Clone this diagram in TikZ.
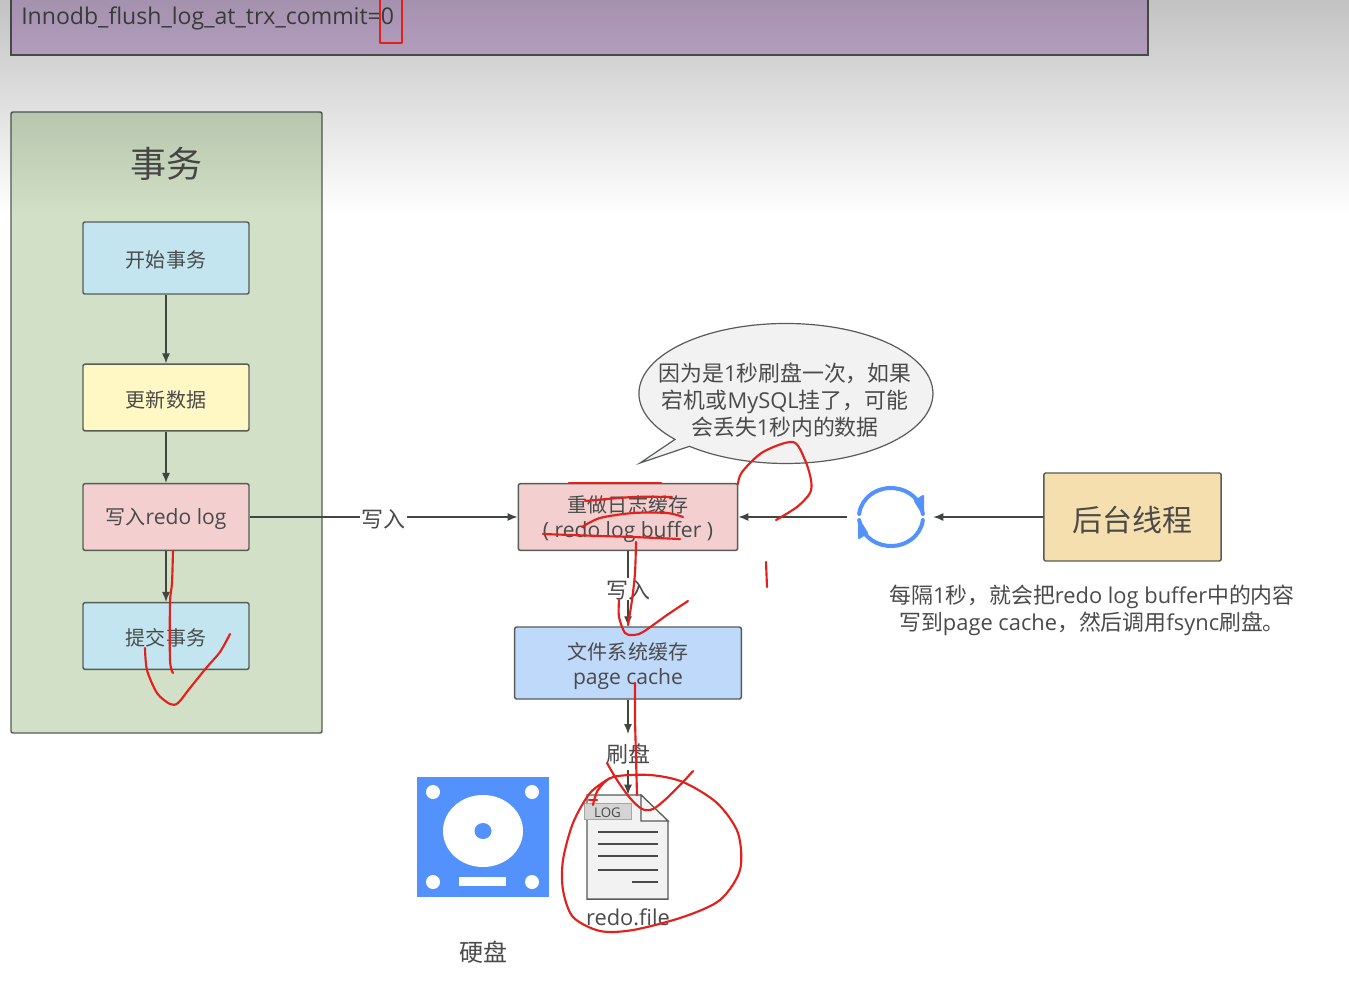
\documentclass[tikz,border=0pt]{standalone}
\usepackage{fontspec}
\setmainfont{Open Sans}
\newfontfamily\cjk{Noto Sans CJK SC}
\newfontfamily\cjksmall[Scale=0.95]{Noto Sans CJK SC}
\usepackage{xcolor}
\usetikzlibrary{arrows.meta,fadings}

\newcommand{\lowtext}[2][1.5pt]{\raisebox{-#1}[\height][\depth]{#2}}
\definecolor{inkgray}{HTML}{4A4A4A}
\definecolor{edgegray}{HTML}{565C56}
\definecolor{arrowgray}{HTML}{404640}
\definecolor{redink}{HTML}{E3201B}
\definecolor{iconblue}{HTML}{5391FD}
\tikzset{
  txbox/.style={draw=edgegray,line width=1.1pt,rounded corners=1.5pt,inner sep=0pt,text=inkgray,align=center,font=\fontsize{15.8}{18.7}\selectfont},
  flowarrow/.style={draw=arrowgray,line width=1pt,-{Latex[length=7.5pt,width=6pt]}},
  edgelabel/.style={fill=white,inner sep=1pt,text=inkgray,font=\cjk\fontsize{16.5}{18}\selectfont},
  plaintext/.style={inner sep=0pt,text=inkgray,align=center},
  redstroke/.style={draw=redink,line width=1.6pt,line cap=round,line join=round},
  syncarc/.style={draw=iconblue,line width=3pt,line cap=round},
  synchead/.style={draw=iconblue,fill=iconblue,line width=1.5pt,line join=round},
}

\begin{document}
\begin{tikzpicture}[x=0.75pt,y=0.75pt,yscale=-1]
\useasboundingbox (0,0) rectangle (1349,983);
\fill[white] (0,0) rectangle (1349,983);

%Shape: Rectangle top bar
\draw[edgegray,line width=1.1pt,fill={rgb,255:red,217;green,192;blue,230}] (11,-8) rectangle (1148,55);
% Text Node
\node[plaintext,anchor=west,font=\fontsize{17.3}{20}\selectfont] (settingtext) at (21,18) {Innodb\_flush\_log\_at\_trx\_commit=0};

%Shape: Rectangle transaction panel
\draw[edgegray,line width=1.1pt,rounded corners=1.5pt,fill={rgb,255:red,209;green,224;blue,198}] (11,112) rectangle (322,733);
% Text Node
\node[plaintext,font=\cjk\fontsize{27}{30}\selectfont] (paneltitle) at (166,164) {事务};

%Shapes: boxes of the panel
\node[txbox,fill={rgb,255:red,195;green,229;blue,240},minimum width=124.5pt,minimum height=54pt] (starttx) at (166,258) {\lowtext{\cjksmall 开始事务}};
\node[txbox,fill={rgb,255:red,255;green,248;blue,197},minimum width=124.5pt,minimum height=50pt] (updatedata) at (166,397.5) {\lowtext{\cjksmall 更新数据}};
\node[txbox,fill={rgb,255:red,243;green,207;blue,207},minimum width=124.5pt,minimum height=50pt] (writelog) at (166,517) {\lowtext{{\cjksmall 写入}redo log}};
\node[txbox,fill={rgb,255:red,195;green,229;blue,240},minimum width=124.5pt,minimum height=50pt] (committx) at (166,636) {\lowtext{\cjksmall 提交事务}};

%Shapes: boxes of the middle column
\node[txbox,fill={rgb,255:red,243;green,207;blue,207},minimum width=164.5pt,minimum height=50pt] (logbuffer) at (628,517) {\lowtext{\cjksmall 重做日志缓存}\\\lowtext{( redo log buffer )}};
\node[txbox,fill={rgb,255:red,191;green,217;blue,250},minimum width=170pt,minimum height=54pt] (pagecache) at (628,663) {\lowtext[2pt]{\cjksmall 文件系统缓存}\\\lowtext[2pt]{page cache}};
\node[txbox,fill={rgb,255:red,246;green,223;blue,174},minimum width=133pt,minimum height=66pt,font=\cjk\fontsize{22.5}{26}\selectfont] (bgthread) at (1132.5,517) {\lowtext[2.2pt]{后台线程}};

%Shape: speech bubble
\draw[edgegray,line width=0.9pt,fill=black!5] (675,439.4) arc[start angle=139,end angle=491,x radius=147,y radius=70] -- (640,463) -- cycle;
% Text Node
\node[plaintext,font=\fontsize{16.4}{20.2}\selectfont] (bubbletext) at (785,400) {{\cjk 因为是}1{\cjk 秒刷盘一次，如果}\\{\cjk 宕机或}MySQL{\cjk 挂了，可能}\\{\cjk 会丢失}1{\cjk 秒内的数据}};

%Shape: sync icon
\node[minimum size=64.5pt,inner sep=0pt,circle] (syncicon) at (890,517) {};
\draw[syncarc] ([shift={(186:32 and 29)}]891,517) arc[start angle=186,end angle=354,x radius=32,y radius=29];
\draw[syncarc] ([shift={(6:32 and 29)}]891,517) arc[start angle=6,end angle=174,x radius=32,y radius=29];
\draw[synchead] (923,496) -- (923,514) -- (915,501) -- cycle;
\draw[synchead] (859,538) -- (859,520) -- (867,533) -- cycle;

% Text Node
\node[plaintext,font=\fontsize{16.4}{20.2}\selectfont] (notetext) at (1092,610) {{\cjk 每隔}1{\cjk 秒，就会把}redo log buffer{\cjk 中的内容}\\{\cjk 写到}page cache{\cjk ，然后调用}fsync{\cjk 刷盘。}};

%Shape: disk icon
\fill[iconblue] (417,777) rectangle (549,897);
\foreach \hx/\hy in {433/792,532/792,433/882,532/882}
  \fill[white] (\hx,\hy) circle [radius=7];
\fill[white] (483,831) ellipse [x radius=40,y radius=36];
\fill[iconblue] (483,831) ellipse [x radius=8.5,y radius=8];
\fill[white] (459,877) rectangle (506,886);
% Text Node
\node[plaintext,font=\cjk\fontsize{18}{20}\selectfont] (disklabel) at (483,952) {硬盘};

%Shape: log file icon
\node[inner sep=0pt,minimum width=60.75pt,minimum height=78pt] (logfile) at (628,847) {};
\draw[edgegray,line width=1.1pt,fill=black!5] (587,795) -- (641,795) -- (668,821) -- (668,899) -- (587,899) -- cycle;
\draw[edgegray,line width=0.8pt,fill=black!3] (641,795) -- (641,821) -- (668,821) -- cycle;
\draw[draw=black!35,fill=black!17] (584,803) rectangle (631,819);
\node[plaintext,font=\fontsize{10}{12}\selectfont] (logtag) at (607.5,813) {LOG};
\foreach \ly/\lx in {832/598,844/598,856/598,870/598,882/632}
  \draw[inkgray,line width=0.8pt] (\lx,\ly) -- (658,\ly);
% Text Node
\node[plaintext,font=\fontsize{16.4}{20}\selectfont] (filelabel) at (628,917) {redo.file};

%Straight Lines
\draw[flowarrow] (starttx) -- (updatedata);
\draw[flowarrow] (updatedata) -- (writelog);
\draw[flowarrow] (writelog) -- (committx);
\draw[flowarrow] (writelog) -- node[edgelabel] (writelabel) {\lowtext{写入}} (logbuffer);
\draw[flowarrow] (logbuffer) -- node[edgelabel] (bufferlabel) {\lowtext{写入}} (pagecache);
\node[edgelabel] (flushlabel) at (628,754) {刷盘};
\coordinate (flushtop) at (628,734);
\coordinate (flushbottom) at (628,770);
\draw[flowarrow] (pagecache) -- (flushtop);
\draw[flowarrow] (flushbottom) -- (logfile);
\draw[flowarrow] (syncicon) -- (logbuffer);
\draw[flowarrow] (bgthread) -- (syncicon);

%Shape: gray shade over the top
\fill[black,opacity=.24,path fading=south] (0,0) rectangle (1349,215);

%Red pen strokes
\draw[redstroke] (380,-4) -- (380,43) -- (402,43) -- (402,-4);
\draw[redstroke] plot[smooth] coordinates {(173,551) (172,583) (170,603) (170,660) (173,673)};
\draw[redstroke] plot[smooth] coordinates {(145,648) (147,670) (157,693) (170,704) (178,703) (190,688) (207,667) (220,652) (230,634)};
\draw[redstroke] (569,483) -- (661,483);
\draw[redstroke] plot[smooth] coordinates {(585,501) (633,497) (672,497)};
\draw[redstroke] plot[smooth] coordinates {(582,527) (600,518) (633,513) (667,513) (683,517)};
\draw[redstroke] plot[smooth] coordinates {(543,534) (600,536) (633,537) (680,539)};
\draw[redstroke] plot[smooth] coordinates {(636,542) (635,573) (632,600) (628,625)};
\draw[redstroke] plot[smooth] coordinates {(619,600) (619,617) (625,633) (633,635) (643,632) (667,615) (688,601)};
\draw[redstroke] (766,562) -- (767,587);
\draw[redstroke] (635,683) -- (635,720) -- (637,795);
\draw[redstroke] plot[smooth] coordinates {(607,763) (617,780) (630,798) (642,809) (653,809) (667,798) (683,782) (693,771)};
\draw[redstroke] plot[smooth] coordinates {(593,805) (598,790) (613,777) (650,775) (683,782) (717,803) (738,833) (740,870) (720,900) (683,917) (633,930) (600,931) (573,917) (563,890) (563,860) (573,823) (590,793) (610,778)};
\draw[redstroke] (589,800) -- (597,800);
\draw[redstroke] plot[smooth] coordinates {(738,484) (742,472) (763,452) (793,442) (805,460) (811,480) (810,493) (797,507) (776,520)};

\end{tikzpicture}
\end{document}
